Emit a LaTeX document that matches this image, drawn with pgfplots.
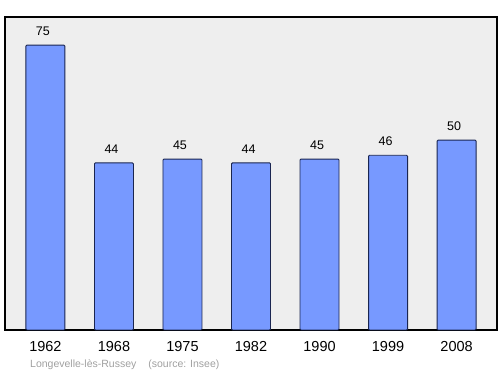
\documentclass[border=0pt]{standalone}
\usepackage{pgfplots}
\pgfplotsset{compat=1.18}
\usepackage{fontspec}
\setmainfont{Liberation Sans}
\definecolor{barfill}{HTML}{7799FF}
\definecolor{barline}{HTML}{1A2550}
\definecolor{bg}{HTML}{EEEEEE}
\definecolor{captiongray}{HTML}{A0A0A0}
\begin{document}
\begin{tikzpicture}
\path[use as bounding box] (0,0) rectangle (500bp,374bp);
\begin{axis}[
  at={(5bp,44bp)}, anchor=south west,
  scale only axis, width=492bp, height=313bp,
  xmin=-0.59, xmax=6.59, ymin=0, ymax=82.4,
  axis background/.style={fill=bg},
  axis line style={black, line width=1.3bp},
  xtick={0,...,6},
  xticklabels={1962,1968,1975,1982,1990,1999,2008},
  xticklabel style={font=\fontsize{14.5bp}{16bp}\selectfont, anchor=center, yshift=-17bp},
  major tick length=0pt,
  ytick=\empty,
  ybar, bar width=39bp,
  /pgf/number format/assume math mode=true,
  nodes near coords,
  nodes near coords style={anchor=center, yshift=14bp, xshift=-2.5bp, font=\fontsize{12.5bp}{14bp}\selectfont, black},
  clip=false,
]
\addplot[fill=barfill, draw=barline, line width=0.9bp, rounded corners=1bp] coordinates {
(0,75) (1,44) (2,45) (3,44) (4,45) (5,46) (6,50)};
\end{axis}
\node[anchor=west, text=captiongray, font=\fontsize{10.5bp}{12bp}\selectfont, inner sep=0pt] at (30bp,9bp) {Longevelle-lès-Russey\hspace{12bp}(source: Insee)};
\end{tikzpicture}
\end{document}
